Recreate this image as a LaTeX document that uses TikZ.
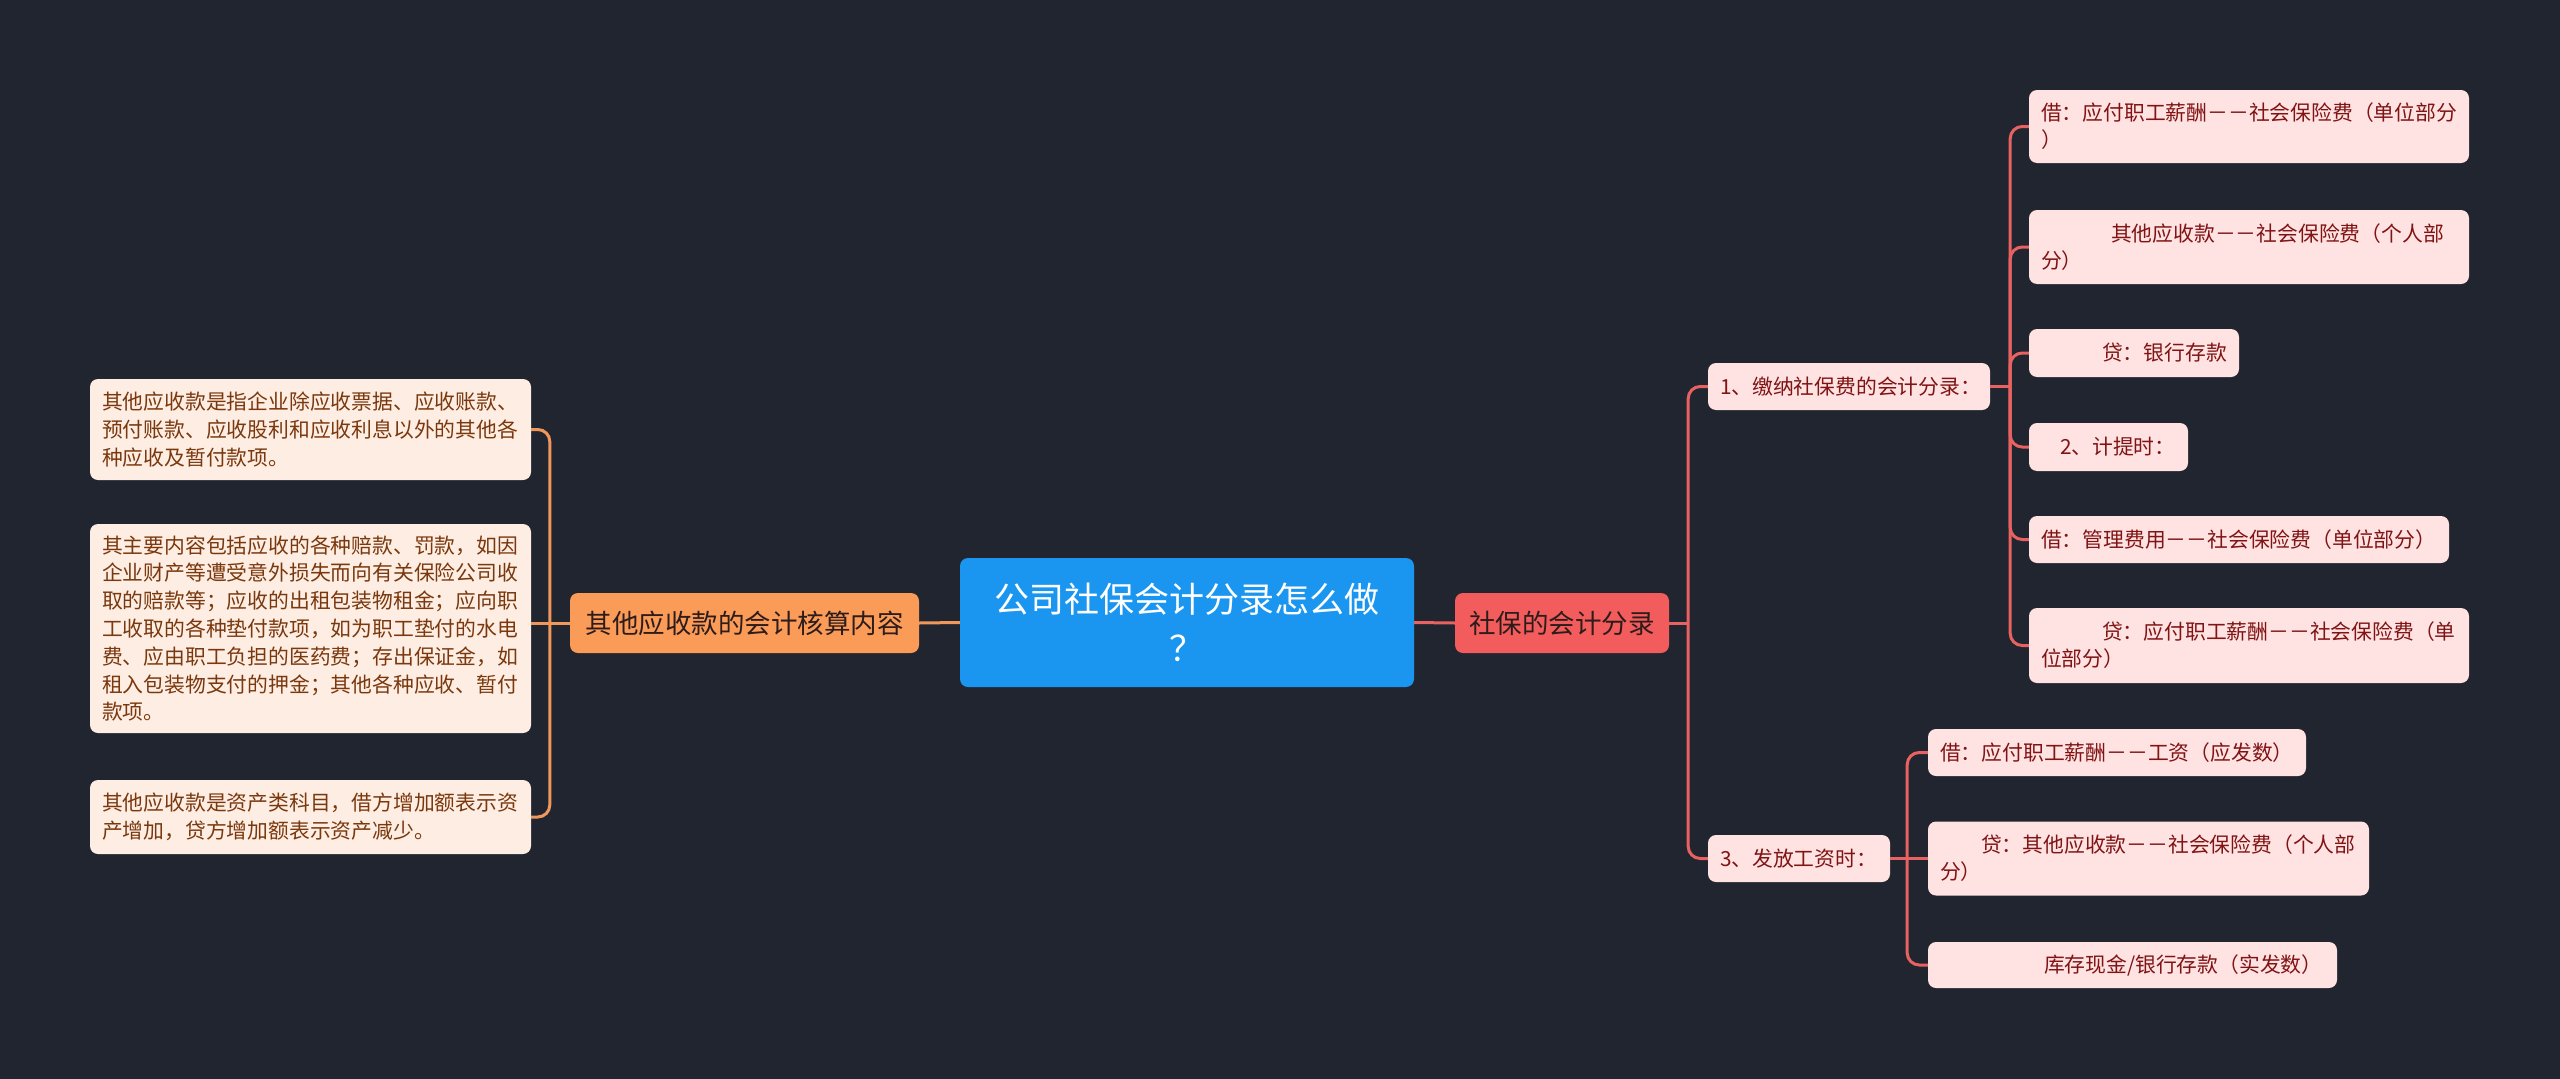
\documentclass[tikz,border=0pt]{standalone}
\usepackage{fontspec}
\setmainfont{Noto Sans CJK SC}
\definecolor{bg}{RGB}{33,37,48}
\definecolor{rootfill}{RGB}{26,150,240}
\definecolor{orangefill}{RGB}{250,155,88}
\definecolor{redfill}{RGB}{243,92,92}
\definecolor{lleaffill}{RGB}{254,237,226}
\definecolor{lleaftext}{RGB}{122,56,14}
\definecolor{rleaffill}{RGB}{255,226,226}
\definecolor{rleaftext}{RGB}{128,20,20}
\definecolor{darktext}{RGB}{45,28,26}
\definecolor{oline}{RGB}{240,152,92}
\definecolor{rline}{RGB}{232,98,98}
\begin{document}
\begin{tikzpicture}[x=1pt,y=-1pt,
  base/.style={rounded corners=8pt, inner xsep=12pt, inner ysep=0pt, anchor=center},
  root/.style={base, fill=rootfill, text=white, align=center, font=\fontsize{35}{49}\selectfont},
  mid/.style={base, inner xsep=0pt, align=center, text=darktext, font=\fontsize{26.5}{32}\selectfont},
  lleaf/.style={base, fill=lleaffill, text=lleaftext, align=left, font=\fontsize{20.8}{27.8}\selectfont},
  rleaf/.style={base, fill=rleaffill, text=rleaftext, align=left, font=\fontsize{20.8}{27}\selectfont},
  oconn/.style={draw=oline, line width=3pt, rounded corners=12pt},
  rconn/.style={draw=rline, line width=3pt, rounded corners=12pt}
]
\fill[bg] (0,0) rectangle (2560,1079);
\useasboundingbox (0,0) rectangle (2560,1079);

% root and main branches
\node[root, text width=430pt, minimum width=454pt, minimum height=129pt] (root) at (1187,622.5) {公司社保会计分录怎么做\\？};
\node[mid, fill=orangefill, minimum width=349pt, minimum height=60pt] (ln) at (744.5,623) {其他应收款的会计核算内容};
\node[mid, fill=redfill, minimum width=214pt, minimum height=60pt] (rn) at (1562,623) {社保的会计分录};

% left leaves
\node[lleaf, text width=417pt, minimum height=101pt] (L1) at (310.5,429.5) {其他应收款是指企业除应收票据、应收账款、\\预付账款、应收股利和应收利息以外的其他各\\种应收及暂付款项。};
\node[lleaf, text width=417pt, minimum height=209pt] (L2) at (310.5,628.5) {其主要内容包括应收的各种赔款、罚款，如因\\企业财产等遭受意外损失而向有关保险公司收\\取的赔款等；应收的出租包装物租金；应向职\\工收取的各种垫付款项，如为职工垫付的水电\\费、应由职工负担的医药费；存出保证金，如\\租入包装物支付的押金；其他各种应收、暂付\\款项。};
\node[lleaf, text width=417pt, minimum height=74pt] (L3) at (310.5,817) {其他应收款是资产类科目，借方增加额表示资\\产增加，贷方增加额表示资产减少。};

% right sub-branches
\node[rleaf, text width=258pt, minimum height=47pt] (n1) at (1849,386.5) {1、缴纳社保费的会计分录：};
\node[rleaf, text width=158pt, minimum height=47pt] (n3) at (1799,858.5) {3、发放工资时：};

% children of n1
\node[rleaf, text width=416pt, minimum height=73pt] (c1) at (2249,126.5) {借：应付职工薪酬－－社会保险费（单位部分\\）};
\node[rleaf, text width=416pt, minimum height=74pt] (c2) at (2249,247) {\hspace*{70pt}其他应收款－－社会保险费（个人部\\分）};
\node[rleaf, text width=186pt, minimum height=48pt] (c3) at (2134,353) {\hspace*{61pt}贷：银行存款};
\node[rleaf, text width=135pt, minimum height=48pt] (c4) at (2108.5,447) {\hspace*{19pt}2、计提时：};
\node[rleaf, text width=396pt, minimum height=47pt] (c5) at (2239,539.5) {借：管理费用－－社会保险费（单位部分）};
\node[rleaf, text width=416pt, minimum height=75pt] (c6) at (2249,645.5) {\hspace*{61pt}贷：应付职工薪酬－－社会保险费（单\\位部分）};

% children of n3
\node[rleaf, text width=354pt, minimum height=47pt] (d1) at (2117,752.5) {借：应付职工薪酬－－工资（应发数）};
\node[rleaf, text width=417pt, minimum height=74pt] (d2) at (2148.5,858.5) {\hspace*{41pt}贷：其他应收款－－社会保险费（个人部\\分）};
\node[rleaf, text width=385pt, minimum height=46pt] (d3) at (2132.5,965) {\hspace*{104pt}库存现金/银行存款（实发数）};

% junction points
\coordinate (jl) at ([xshift=-20pt]ln.west);
\coordinate (jr) at ([xshift=19pt]rn.east);
\coordinate (j1) at ([xshift=20pt]n1.east);
\coordinate (j3) at ([xshift=17pt]n3.east);

% connectors
\draw[oconn] (root.west) -- (ln.east);
\draw[rconn] (root.east) -- (rn.west);
\draw[oconn] (ln.west) -- (jl);
\foreach \t in {L1,L3}{\draw[oconn] (jl) |- (\t.east);}
\draw[oconn] (jl) -- (L2.east |- jl);
\draw[rconn] (rn.east) -- (jr);
\foreach \t in {n1,n3}{\draw[rconn] (jr) |- (\t.west);}
\draw[rconn] (n1.east) -- (j1);
\foreach \t in {c1,c2,c3,c4,c5,c6}{\draw[rconn] (j1) |- (\t.west);}
\draw[rconn] (n3.east) -- (j3);
\foreach \t in {d1,d3}{\draw[rconn] (j3) |- (\t.west);}
\draw[rconn] (j3) -- (d2.west);
\end{tikzpicture}
\end{document}
